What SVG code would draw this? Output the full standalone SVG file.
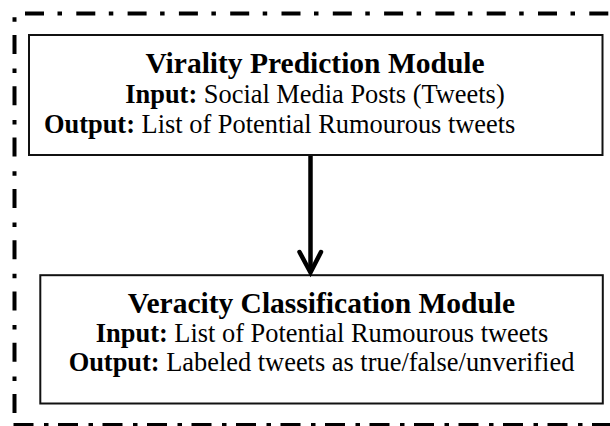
<svg xmlns="http://www.w3.org/2000/svg" width="610" height="426" viewBox="0 0 610 426">
  <style>
    .frame { fill: none; stroke: #000; stroke-width: 4; }
    .box { fill: #fff; stroke: #111; stroke-width: 2; }
    .title { font-family: "Liberation Serif", "Times New Roman", serif; font-size: 29.5px; font-weight: bold; fill: #000; }
    .body { font-family: "Liberation Serif", "Times New Roman", serif; font-size: 26.4px; fill: #000; }
    .b { font-weight: bold; }
    .link { fill: none; stroke: #000; stroke-width: 4.5; }
  </style>

  <rect width="610" height="426" fill="#fff"/>

  <!-- dash-dot enclosure -->
  <g id="enclosure">
    <line class="frame" x1="25" y1="13.4" x2="610" y2="13.4" stroke-dasharray="19 13.5 4.5 14.3"/>
    <line class="frame" x1="14.5" y1="17.3" x2="14.5" y2="414" stroke-dasharray="4.5 13.2 19 14.6"/>
    <line class="frame" x1="13.5" y1="425" x2="610" y2="425" stroke-dasharray="20 10.5 4.5 9.5"/>
  </g>

  <!-- virality prediction -->
  <g id="virality">
    <rect class="box" x="29" y="35" width="573.5" height="120"/>
    <text class="title" x="315" y="73" text-anchor="middle">Virality Prediction Module</text>
    <text class="body" x="315" y="103" text-anchor="middle"><tspan class="b">Input:</tspan> Social Media Posts (Tweets)</text>
    <text class="body" x="44" y="133"><tspan class="b">Output:</tspan> List of Potential Rumourous tweets</text>
  </g>

  <!-- veracity classification -->
  <g id="veracity">
    <rect class="box" x="40.3" y="275.2" width="562.5" height="128.3"/>
    <text class="title" x="321.5" y="313" text-anchor="middle">Veracity Classification Module</text>
    <text class="body" x="322" y="342" text-anchor="middle"><tspan class="b">Input:</tspan> List of Potential Rumourous tweets</text>
    <text class="body" x="321.5" y="371" text-anchor="middle"><tspan class="b">Output:</tspan> Labeled tweets as true/false/unverified</text>
  </g>

  <!-- connectors -->
  <g id="connectors">
    <line class="link" x1="310.5" y1="156" x2="310.5" y2="271"/>
    <polyline class="link" points="299.5,252 310.5,272.5 321,252" stroke-linecap="round" stroke-linejoin="miter"/>
  </g>
</svg>
